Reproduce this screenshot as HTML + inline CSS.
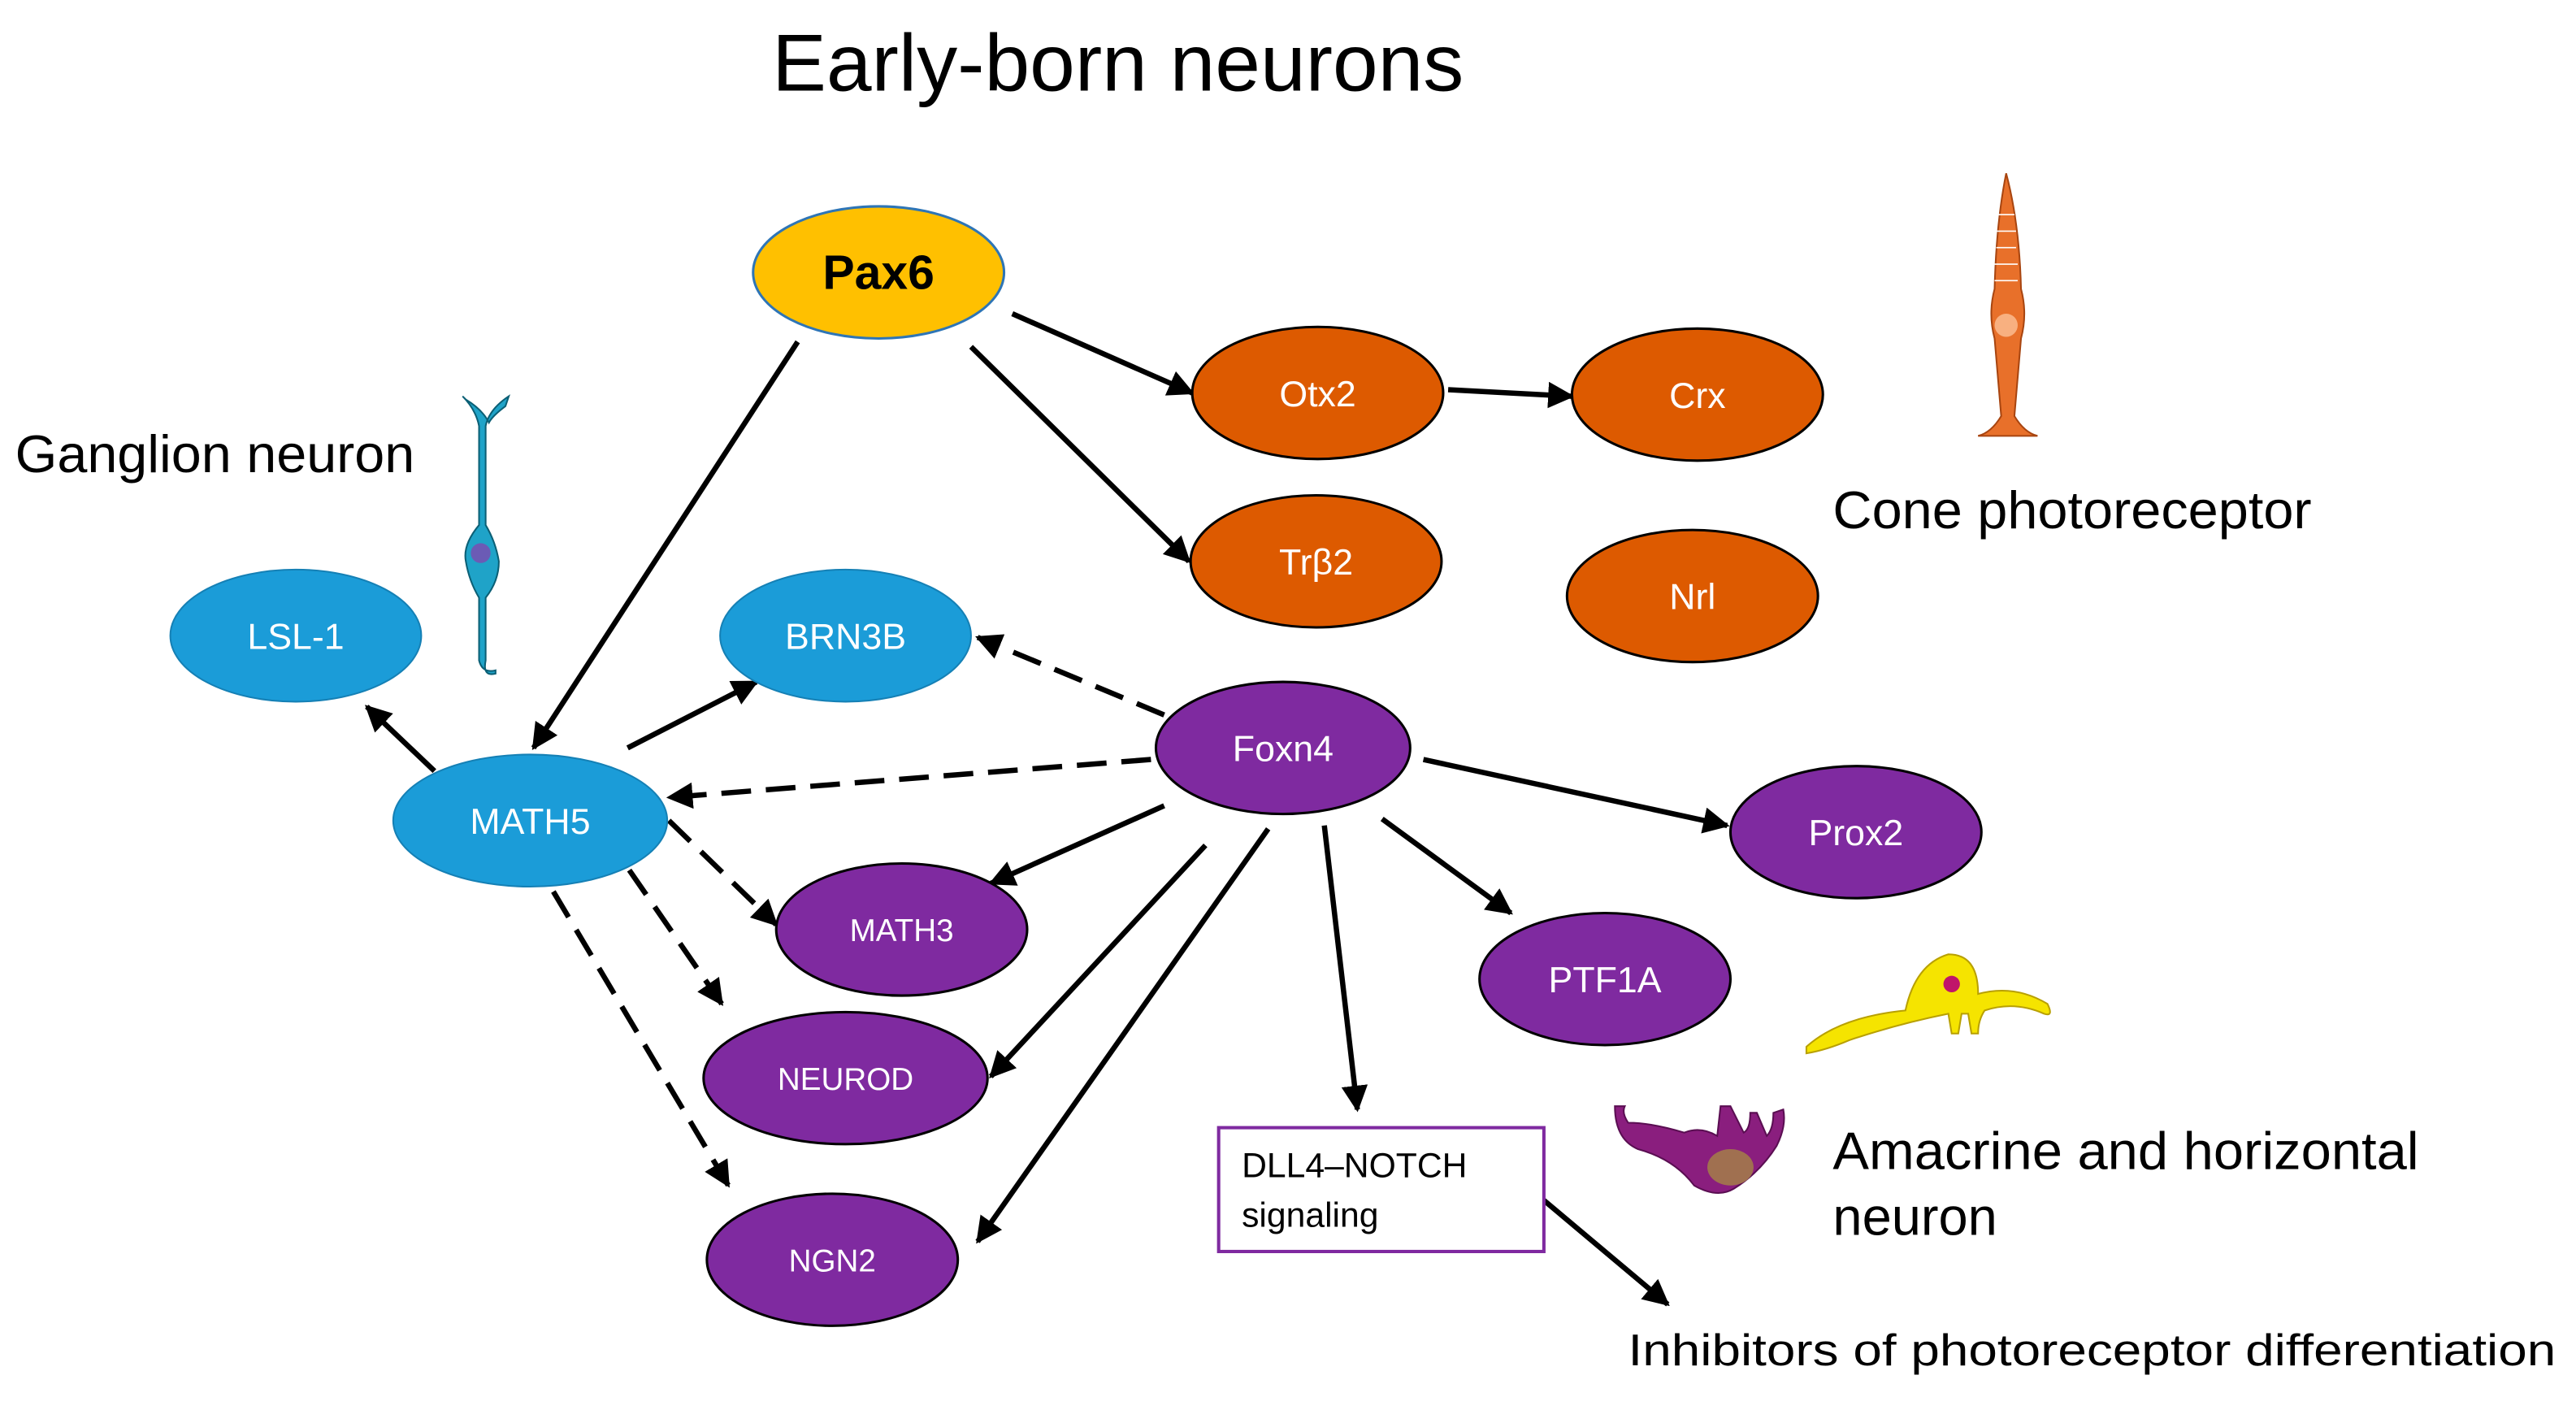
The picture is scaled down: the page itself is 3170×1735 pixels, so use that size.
<!DOCTYPE html>
<html><head><meta charset="utf-8"><style>html,body{margin:0;padding:0;background:#fff}svg{display:block}</style></head>
<body>
<svg width="3170" height="1735" viewBox="0 0 1560 854" xmlns="http://www.w3.org/2000/svg" font-family="Liberation Sans, Arial, sans-serif">
<defs>
<marker id="ah" viewBox="0 0 10 10" refX="9" refY="5" markerWidth="5" markerHeight="5" orient="auto" markerUnits="strokeWidth"><path d="M0,0 L10,5 L0,10 z" fill="#000"/></marker>
</defs>
<text x="677" y="55" font-size="49" text-anchor="middle" fill="#000" textLength="419" lengthAdjust="spacingAndGlyphs">Early-born neurons</text>
<g stroke="#000" stroke-width="3.2" fill="none" marker-end="url(#ah)">
<line x1="613" y1="190" x2="722" y2="238"/>
<line x1="588" y1="210" x2="720" y2="340"/>
<line x1="483" y1="207" x2="323" y2="453"/>
<line x1="877" y1="236" x2="952" y2="240"/>
<line x1="263" y1="467" x2="222" y2="428"/>
<line x1="380" y1="453" x2="458" y2="413"/>
<line x1="705" y1="488" x2="600" y2="535"/>
<line x1="730" y1="512" x2="600" y2="652"/>
<line x1="768" y1="502" x2="592" y2="752"/>
<line x1="802" y1="500" x2="822" y2="672"/>
<line x1="837" y1="496" x2="915" y2="553"/>
<line x1="862" y1="460" x2="1046" y2="500"/>
<line x1="935" y1="727" x2="1010" y2="790"/>
</g>
<g stroke="#000" stroke-width="3.2" fill="none" stroke-dasharray="18,9" marker-end="url(#ah)">
<line x1="705" y1="433" x2="592" y2="386"/>
<line x1="697" y1="460" x2="405" y2="483"/>
<line x1="405" y1="497" x2="470" y2="560"/>
<line x1="381" y1="527" x2="437" y2="608"/>
<line x1="335" y1="540" x2="441" y2="718"/>
</g>
<g font-size="22" text-anchor="middle" fill="#fff">
<ellipse cx="532" cy="165" rx="76" ry="40" fill="#FFC000" stroke="#2E75B6" stroke-width="1.5"/>
<text x="532" y="175" font-size="29" font-weight="bold" fill="#000">Pax6</text>
<g stroke="#000" stroke-width="1.5" fill="#DD5A00">
<ellipse cx="798" cy="238" rx="76" ry="40"/>
<ellipse cx="1028" cy="239" rx="76" ry="40"/>
<ellipse cx="797" cy="340" rx="76" ry="40"/>
<ellipse cx="1025" cy="361" rx="76" ry="40"/>
</g>
<text x="798" y="246">Otx2</text>
<text x="1028" y="247">Crx</text>
<text x="797" y="348">Trβ2</text>
<text x="1025" y="369">Nrl</text>
<g fill="#1B9CD8" stroke="#1580B5" stroke-width="1">
<ellipse cx="179" cy="385" rx="76" ry="40"/>
<ellipse cx="512" cy="385" rx="76" ry="40"/>
<ellipse cx="321" cy="497" rx="83" ry="40"/>
</g>
<text x="179" y="393">LSL-1</text>
<text x="512" y="393">BRN3B</text>
<text x="321" y="505">MATH5</text>
<g fill="#7F2AA0" stroke="#000" stroke-width="1.5">
<ellipse cx="777" cy="453" rx="77" ry="40"/>
<ellipse cx="1124" cy="504" rx="76" ry="40"/>
<ellipse cx="546" cy="563" rx="76" ry="40"/>
<ellipse cx="972" cy="593" rx="76" ry="40"/>
<ellipse cx="512" cy="653" rx="86" ry="40"/>
<ellipse cx="504" cy="763" rx="76" ry="40"/>
</g>
<text x="777" y="461">Foxn4</text>
<text x="1124" y="512">Prox2</text>
<text x="546" y="570" font-size="19">MATH3</text>
<text x="972" y="601">PTF1A</text>
<text x="512" y="660" font-size="19">NEUROD</text>
<text x="504" y="770" font-size="19">NGN2</text>
</g>
<rect x="738" y="683" width="197" height="75" fill="#fff" stroke="#7F2AA0" stroke-width="2"/>
<text x="752" y="713" font-size="21" fill="#000">DLL4–NOTCH</text>
<text x="752" y="743" font-size="21" fill="#000">signaling</text>
<g font-size="32" fill="#000">
<text x="9" y="286" textLength="242" lengthAdjust="spacingAndGlyphs">Ganglion neuron</text>
<text x="1110" y="320" textLength="290" lengthAdjust="spacingAndGlyphs">Cone photoreceptor</text>
<text x="1110" y="708" textLength="355" lengthAdjust="spacingAndGlyphs">Amacrine and horizontal</text>
<text x="1110" y="748">neuron</text>
<text x="986" y="827" font-size="27" textLength="562" lengthAdjust="spacingAndGlyphs">Inhibitors of photoreceptor differentiation</text>
</g>
<!-- ganglion cell -->
<g fill="#1FA3C8" stroke="#0B5F75" stroke-width="1">
<path d="M280,240 q8,8 10,18 L290,318 q-10,12 -8,22 q2,12 8,22 L290,400 q2,8 10,6 L300,408 q-8,2 -6,-8 L294,362 q8,-10 8,-22 q-2,-12 -8,-22 L294,258 q2,-10 14,-18 l-2,6 q-8,6 -10,10 q-4,-8 -14,-14 z"/>
</g>
<circle cx="291" cy="335" r="6" fill="#6B5BB5"/>
<!-- cone -->
<g fill="#E8702A" stroke="#A84510" stroke-width="1">
<path d="M1215,105 q8,30 9,70 q4,15 0,30 L1220,252 q6,10 14,12 L1198,264 q8,-2 14,-12 L1208,205 q-4,-15 0,-30 q1,-40 7,-70 z"/>
</g>
<circle cx="1215" cy="197" r="7" fill="#F8B080"/>
<g stroke="#fff" stroke-width="0.8">
<line x1="1210" y1="130" x2="1220" y2="130"/><line x1="1209" y1="140" x2="1221" y2="140"/><line x1="1209" y1="150" x2="1221" y2="150"/><line x1="1208" y1="160" x2="1222" y2="160"/><line x1="1208" y1="170" x2="1222" y2="170"/>
</g>
<!-- amacrine yellow -->
<path d="M1094,634 q20,-18 60,-22 q6,-28 26,-34 q18,0 18,24 q22,-6 42,6 q4,8 -2,6 q-18,-8 -36,-2 q-4,6 -4,14 l-4,0 l-2,-12 l-4,0 l-2,12 l-4,0 l-2,-12 q-30,6 -60,16 q-14,6 -26,8 z" fill="#F5E400" stroke="#B8A000" stroke-width="1"/>
<circle cx="1182" cy="596" r="5" fill="#C0156A"/>
<!-- horizontal purple -->
<path d="M978,670 q0,20 14,26 q22,6 34,22 q14,8 24,2 q16,-10 26,-26 q6,-12 4,-22 l-6,2 q0,10 -4,14 l-6,-14 l-4,0 q0,10 -4,12 l-8,-16 l-6,0 l-2,18 q-10,-6 -20,-2 q-20,-6 -34,-6 q-4,-6 -2,-10 z" fill="#8A1E7E" stroke="#5A0E52" stroke-width="1"/>
<ellipse cx="1048" cy="707" rx="14" ry="11" fill="#A07050"/>
</svg>
</body></html>
